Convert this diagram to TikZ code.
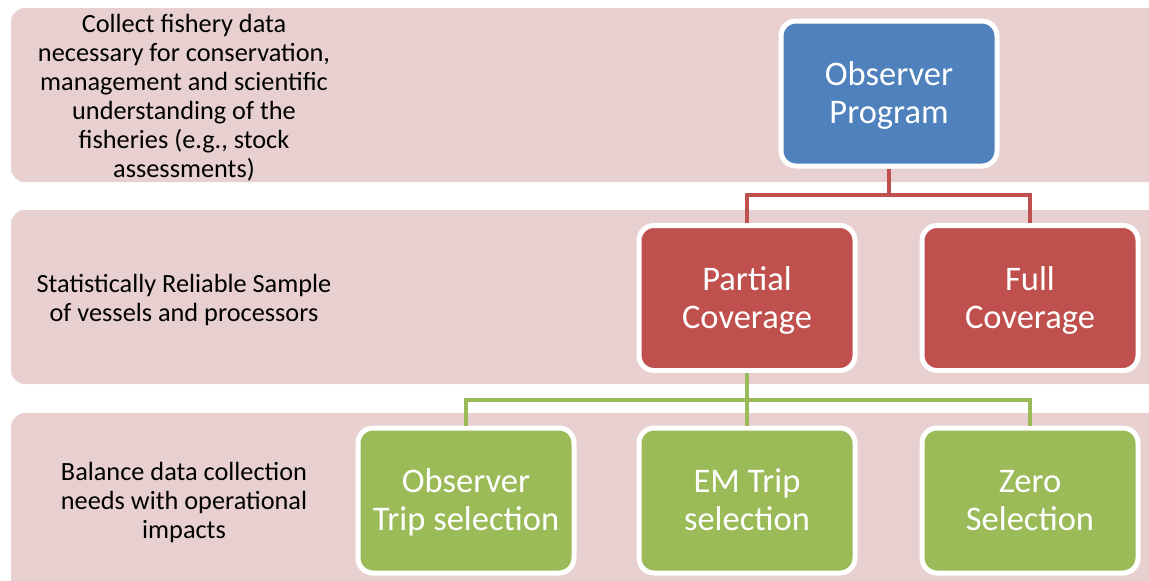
\documentclass[tikz,border=0pt]{standalone}
\usepackage{fontspec}
\setmainfont{Carlito}

\definecolor{bandpink}{HTML}{E8D0D1}
\definecolor{obsblue}{HTML}{4F81BD}
\definecolor{covred}{HTML}{C0504D}
\definecolor{tripgreen}{HTML}{9BBB59}

\tikzset{
  band/.style={fill=bandpink, rounded corners=14pt},
  goaltext/.style={align=center, text=black, font=\fontsize{26.3}{29}\selectfont,
    execute at begin node=\strut, execute at end node=\strut},
  tierbox/.style={draw=white, line width=5pt, rounded corners=15pt,
    minimum width=216pt, minimum height=145pt, text=white, align=center,
    font=\fontsize{34.5}{38}\selectfont, text height=72pt, text depth=11.4pt},
  link/.style={line width=4pt},
}

\begin{document}
\begin{tikzpicture}[x=1pt,y=-1pt]
      \useasboundingbox (0,0) rectangle (1149,581);
      \clip (0,0) rectangle (1149,581);
      % Bands
      \fill[band] (11,8) rectangle (1175,182);
      \fill[band] (11,210) rectangle (1175,384);
      \fill[band] (11,413) rectangle (1175,600);
      % Goals on the left
      \node[goaltext] (goaldata) at (184,100) {Collect fishery data\\necessary for conservation,\\management and scientific\\understanding of the\\fisheries (e.g., stock\\assessments)};
      \node[goaltext] (goalsample) at (184,302) {Statistically Reliable Sample\\of vessels and processors};
      \node[goaltext] (goalbalance) at (184,505) {Balance data collection\\needs with operational\\impacts};
      % Top of the chart
      \node[tierbox, fill=obsblue] (obs) at (889,93.5) {Observer\\Program};
      % Coverage
      \node[tierbox, fill=covred] (partial) at (747,298) {Partial\\Coverage};
      \node[tierbox, fill=covred] (full) at (1030,298) {Full\\Coverage};
      % Trip selection
      \node[tierbox, fill=tripgreen] (obstrip) at (466,500.5) {Observer\\Trip selection};
      \node[tierbox, fill=tripgreen] (emtrip) at (747,500.5) {EM Trip\\selection};
      \node[tierbox, fill=tripgreen] (zero) at (1030,500.5) {Zero\\Selection};
      % Connectors
      \coordinate (redbus) at (889,195);
      \coordinate (greenbus) at (747,400);
      \draw[link, covred] (obs.south) -- (redbus) -| (partial.north);
      \draw[link, covred] (redbus) -| (full.north);
      \draw[link, tripgreen] (partial.south) -- (greenbus) -| (obstrip.north);
      \draw[link, tripgreen] (greenbus) -- (emtrip.north);
      \draw[link, tripgreen] (greenbus) -| (zero.north);
\end{tikzpicture}
\end{document}
